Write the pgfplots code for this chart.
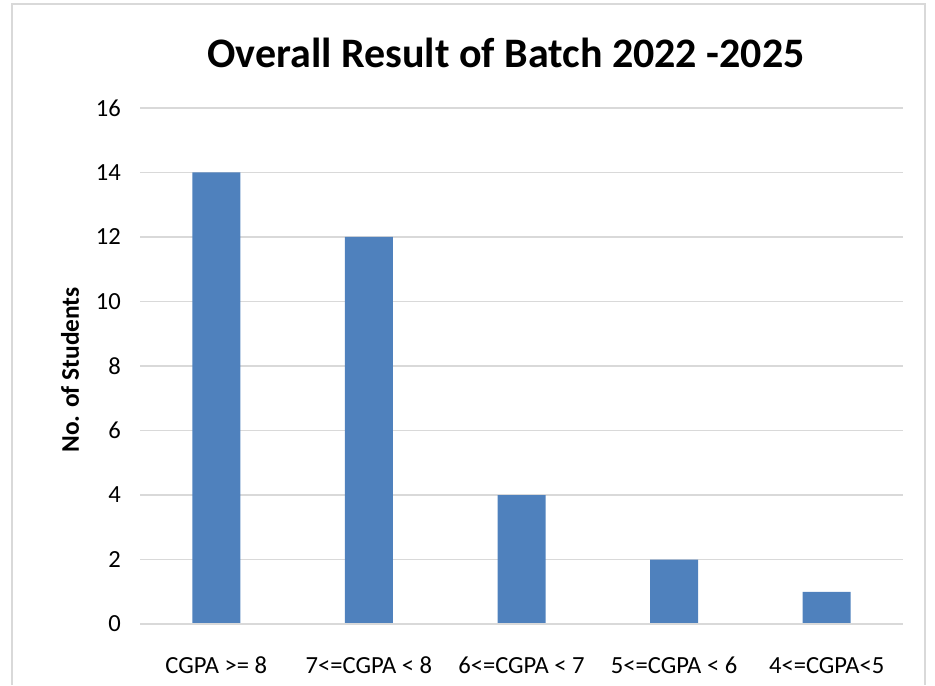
\documentclass[border=0pt]{standalone}
\usepackage{fontspec}
\setmainfont{Carlito}
\usepackage{pgfplots}
\pgfplotsset{compat=1.18}
\definecolor{BarBlue}{HTML}{4F81BD}
\definecolor{GridGray}{HTML}{D9D9D9}
\definecolor{FrameGray}{HTML}{D9D9D9}
\begin{document}
\begin{tikzpicture}
  % page = 935 x 685 px at 0.5pt per px
  \useasboundingbox (0,0) rectangle (467.5pt,342.5pt);
  \draw[FrameGray,line width=1pt] (6pt,0) -- (6pt,340.5pt) -- (462.5pt,340.5pt) -- (462.5pt,0);
  \node[font=\bfseries\fontsize{21}{25}\selectfont] at (253pt,316pt) {Overall Result of Batch 2022 -2025};
  \begin{axis}[
    at={(70pt,30.5pt)},anchor=south west,
    scale only axis,width=381.5pt,height=258pt,
    ybar,bar width=24pt,
    xmin=-0.5,xmax=4.5,ymin=0,ymax=16,
    xtick=data,ytick={0,2,...,16},
    xticklabels={CGPA >= 8,7<=CGPA < 8,6<=CGPA < 7,5<=CGPA < 6,4<=CGPA<5},
    axis line style={draw=none},
    axis x line*=bottom,axis y line*=left,
    tick style={draw=none},
    ymajorgrids,grid style={color=GridGray,line width=0.75pt},
    /pgf/number format/assume math mode=true,
    tick label style={font=\fontsize{12.3}{14}\selectfont},
    yticklabel style={xshift=-6pt},
    xticklabel style={anchor=center,yshift=-16.5pt},
    clip=false,
  ]
    \addplot[fill=BarBlue,draw=none] coordinates {(0,14) (1,12) (2,4) (3,2) (4,1)};
    \draw[GridGray,line width=0.75pt] (axis cs:-0.5,0) -- (axis cs:4.5,0);
  \end{axis}
  \node[rotate=90,font=\bfseries\fontsize{12.7}{14}\selectfont] at (35pt,157.5pt) {No. of Students};
\end{tikzpicture}
\end{document}
